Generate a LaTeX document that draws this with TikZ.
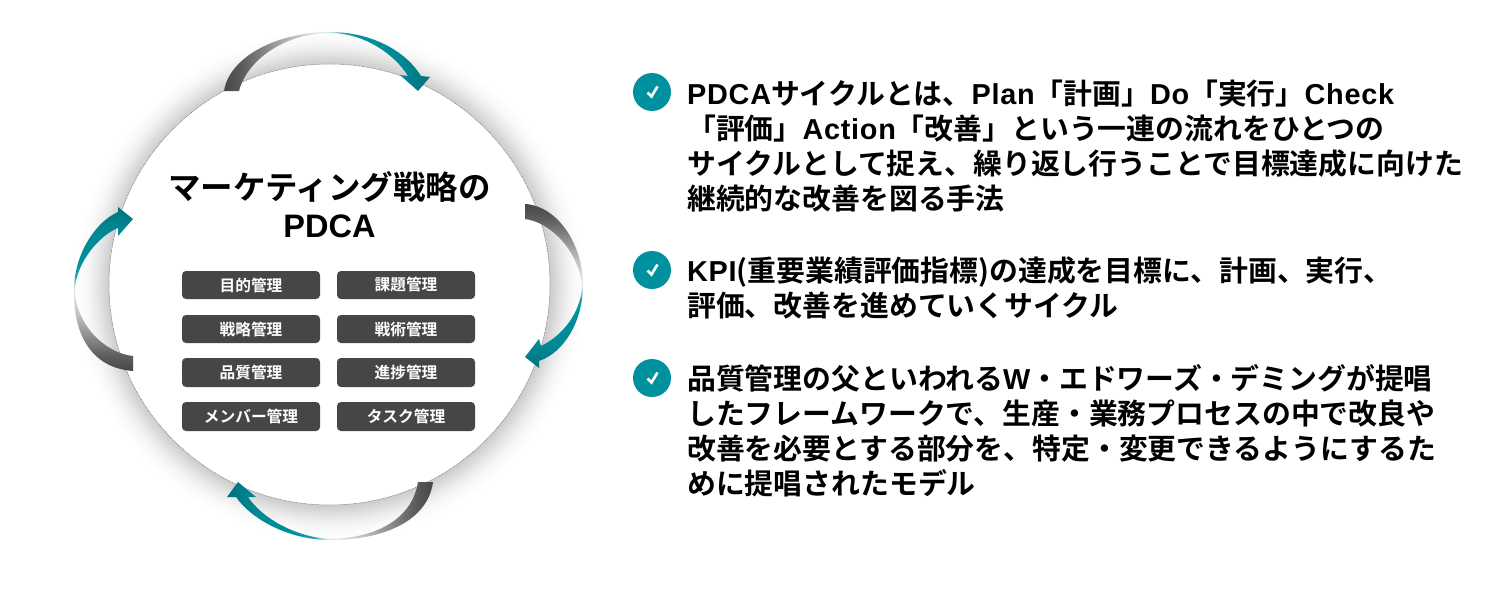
\documentclass[tikz,border=0pt]{standalone}
\usepackage{fontspec}
\setmainfont{Noto Sans CJK JP}[BoldFont={* Bold}]
\newfontfamily\latinface{Liberation Sans}[LetterSpace=2.5]
\newfontfamily\titlelatin{Liberation Sans}
\newcommand{\lat}[1]{{\latinface\bfseries #1}}
\definecolor{pdgrey}{HTML}{464646}
\definecolor{pdteal}{HTML}{00919E}
\definecolor{pdtealdark}{HTML}{00727E}
\definecolor{swA}{HTML}{606060}
\definecolor{swB}{HTML}{808080}
\definecolor{swC}{HTML}{C0C0C0}
\definecolor{swD}{HTML}{E8E8E8}
\pgfdeclarehorizontalshading{swoosh}{100bp}{
  color(0bp)=(pdgrey); color(25bp)=(pdgrey); color(30bp)=(swA);
  color(34bp)=(swB); color(42bp)=(swC); color(48.5bp)=(swD);
  color(51bp)=(pdteal!25!white); color(54bp)=(pdteal!85!white); color(58bp)=(pdteal);
  color(68bp)=(pdteal!70!pdtealdark); color(75bp)=(pdtealdark); color(100bp)=(pdtealdark)}
\pgfdeclareradialshading{ringshadow}{\pgfpoint{0bp}{0bp}}{
  color(0bp)=(black!20); color(21.6bp)=(black!20); color(22.3bp)=(black!14);
  color(23bp)=(black!8); color(23.8bp)=(black!3); color(24.5bp)=(black!1); color(25bp)=(white); color(50bp)=(white)}
\tikzset{
  pillbox/.style={fill=pdgrey,rounded corners=4pt,minimum width=138pt,inner sep=0pt,text=white,
    font=\fontsize{15.7}{15.7}\selectfont\bfseries},
  bodytext/.style={anchor=north west,align=left,inner sep=0pt,text=black,
    font=\fontsize{28.85}{35}\selectfont\bfseries},
  titletext/.style={align=center,inner sep=0pt,text=black,
    font=\fontsize{32.5}{38}\selectfont\bfseries},
  tickdisc/.style={circle,fill=pdteal,minimum size=38pt,inner sep=0pt},
  tickline/.style={draw=white,line width=2.6pt},
  swooshfill/.style={shading=swoosh},
}
\begin{document}
\begin{tikzpicture}[x=1pt,y=-1pt]
\useasboundingbox (0,0) rectangle (1495,594);
\coordinate (hub) at (329.5,284.5);
\shade[shading=ringshadow] (hub) circle (255);
\fill[white] (hub) circle (220.5);
\draw[black!55,line width=0.5pt,dash pattern=on 0.9pt off 0.7pt] (hub) circle (220.5);

% top arrow
\shade[swooshfill,shading angle=0] (224,91) .. controls (230,55) and (280,32) .. (330,32)
  .. controls (370,32) and (405,50) .. (421,76) -- (430,77) -- (418,91) -- (400,75) -- (408,76)
  .. controls (395,55) and (365,33) .. (330,33) .. controls (285,33) and (247,60) .. (239,91) -- cycle;
% right arrow
\shade[swooshfill,shading angle=270] (525,204) .. controls (558,206) and (583,245) .. (583,285)
  .. controls (583,320) and (565,352) .. (539,361) -- (539,368) -- (525,357) -- (539,339) -- (541,346)
  .. controls (560,337) and (581,315) .. (582,285) .. controls (578,250) and (550,222) .. (525,219) -- cycle;
% bottom arrow
\shade[swooshfill,shading angle=180] (433,482) .. controls (428,520) and (385,540) .. (330,540)
  .. controls (290,540) and (252,520) .. (236,497) -- (227,497) -- (238,482) -- (256,497) -- (248,497)
  .. controls (262,518) and (295,537) .. (330,539) .. controls (375,538) and (412,520) .. (418,482) -- cycle;
% left arrow
\shade[swooshfill,shading angle=90] (133,371) .. controls (92,368) and (73,335) .. (74,290)
  .. controls (74,255) and (95,222) .. (118,212) -- (118,207) -- (133,219) -- (118,236) -- (118,228)
  .. controls (100,235) and (76,262) .. (75,290) .. controls (76,325) and (105,353) .. (133,356) -- cycle;

\node[titletext] (title) at (329.5,205) {マーケティング戦略の\\{\titlelatin\bfseries PDCA}};

\node[pillbox,minimum height=28pt] (p1) at (251,285) {目的管理};
\node[pillbox,minimum height=28pt] (p2) at (406,285) {課題管理};
\node[pillbox,minimum height=28pt] (p3) at (251,329) {戦略管理};
\node[pillbox,minimum height=28pt] (p4) at (406,329) {戦術管理};
\node[pillbox,minimum height=29pt] (p5) at (251,372.5) {品質管理};
\node[pillbox,minimum height=29pt] (p6) at (406,372.5) {進捗管理};
\node[pillbox,minimum height=29pt] (p7) at (251,416.5) {メンバー管理};
\node[pillbox,minimum height=29pt] (p8) at (406,416.5) {タスク管理};

\node[tickdisc] (d1) at (652,92) {};
\node[tickdisc] (d2) at (652,270) {};
\node[tickdisc] (d3) at (652,378) {};
\foreach \d in {d1,d2,d3}
  \draw[tickline] ([shift={(-4.5,0.5)}]\d.center) -- ([shift={(-0.5,4.5)}]\d.center) -- ([shift={(5.5,-5.5)}]\d.center);

\node[bodytext] (t1) at (687,79.5) {\lat{PDCA}サイクルとは、\lat{Plan}「計画」\lat{Do}「実行」\lat{Check}\\
「評価」\lat{Action}「改善」という一連の流れをひとつの\\
サイクルとして捉え、繰り返し行うことで目標達成に向けた\\
継続的な改善を図る手法};
\node[bodytext] (t2) at (687,256.5) {\lat{KPI}(重要業績評価指標)の達成を目標に、計画、実行、\\
評価、改善を進めていくサイクル};
\node[bodytext] (t3) at (687,364.5) {品質管理の父といわれる\lat{W}・エドワーズ・デミングが提唱\\
したフレームワークで、生産・業務プロセスの中で改良や\\
改善を必要とする部分を、特定・変更できるようにするた\\
めに提唱されたモデル};
\end{tikzpicture}
\end{document}
